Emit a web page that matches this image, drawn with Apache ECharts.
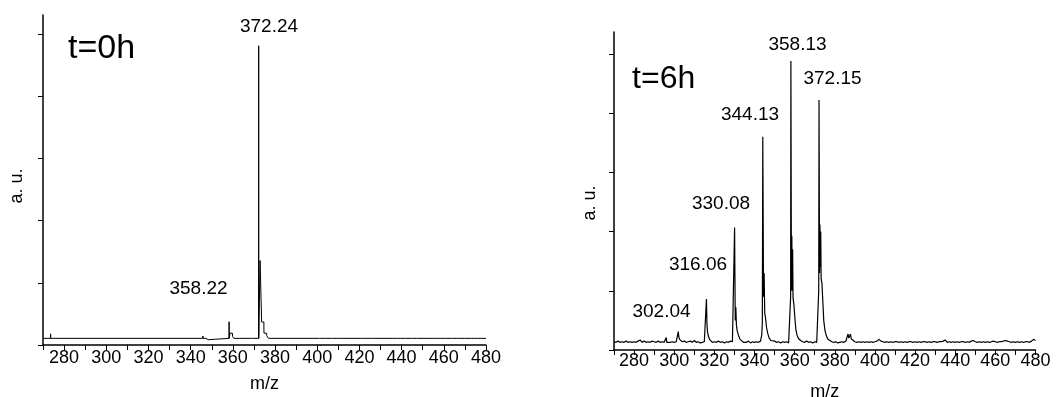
<!DOCTYPE html>
<html>
<head>
<meta charset="utf-8">
<script src="https://cdn.jsdelivr.net/npm/echarts@6/dist/echarts.min.js"></script>
<style>
  html, body { margin: 0; padding: 0; background: #fff; }
  #chart { width: 1064px; height: 397px; }
</style>
</head>
<body>
<div id="chart"></div>
<script>
// ---- data ----
const xTickValues = [270,280,290,300,310,320,330,340,350,360,370,380,390,400,410,420,430,440,450,460,470,480];
const xLabelValues = [280,300,320,340,360,380,400,420,440,460,480];
const yTickValues = [0,1,2,3,4,5];

// t = 0 h spectrum: [m/z, intensity (a.u.)]
const spectrum0h = [
  [270,0.107],[273.5,0.107],[273.6,0.18],[273.7,0.107],
  [345.7,0.107],[345.8,0.145],[345.9,0.107],
  [347.3,0.107],[347.35,0.085],[347.4,0.107],[348.2,0.107],[348.25,0.085],[348.3,0.107],
  [358.18,0.107],[358.22,0.374],[358.28,0.107],[358.6,0.107],[358.65,0.19],[359.8,0.19],[359.85,0.14],[360.4,0.14],[360.45,0.107],
  [369.25,0.107],[369.3,0.09],[369.35,0.107],
  [372.2,0.107],[372.24,4.815],[372.28,0.107],
  [372.85,0.107],[372.9,1.36],[373.6,1.36],[373.65,0.37],[374.7,0.37],[374.75,0.19],[376.0,0.19],[376.05,0.15],[376.9,0.15],[376.95,0.107],
  [401.1,0.107],[401.15,0.085],[401.2,0.107],[403.9,0.107],[403.95,0.085],[404.0,0.107],
  [406.8,0.107],[406.85,0.085],[406.9,0.107],[409.5,0.107],[409.55,0.085],[409.6,0.107],
  [420.9,0.107],[420.95,0.085],[421.0,0.107],[422.6,0.107],[422.65,0.085],[422.7,0.107],
  [426.3,0.107],[426.35,0.085],[426.4,0.107],
  [435.8,0.107],[435.85,0.085],[435.9,0.107],[437.5,0.107],[437.55,0.085],[437.6,0.107],
  [439.6,0.107],[439.65,0.085],[439.7,0.107],[441.4,0.107],[441.45,0.085],[441.5,0.107],
  [445.2,0.107],[445.25,0.085],[445.3,0.107],[447.0,0.107],[447.05,0.085],[447.1,0.107],
  [453.4,0.107],[453.45,0.085],[453.5,0.107],[455.3,0.107],[455.35,0.085],[455.4,0.107],
  [456.9,0.107],[456.95,0.085],[457.0,0.107],[458.6,0.107],[458.65,0.085],[458.7,0.107],
  [460.2,0.107],[460.25,0.085],[460.3,0.107],[461.5,0.107],[461.55,0.085],[461.6,0.107],
  [463.7,0.107],[463.75,0.085],[463.8,0.107],[466.6,0.107],[466.65,0.085],[466.7,0.107],
  [469.8,0.107],[469.85,0.085],[469.9,0.107],
  [473.0,0.107],[473.05,0.085],[473.1,0.107],[474.5,0.107],[474.55,0.085],[474.6,0.107],
  [476.0,0.107],[476.05,0.085],[476.1,0.107],[477.6,0.107],[477.65,0.085],[477.7,0.107],
  [479.0,0.107],[479.05,0.085],[479.1,0.107],[480,0.107]
];

// t = 6 h spectrum: [m/z, intensity (a.u.)]
const spectrum6h = [
  [270,0.14],[271,0.13],[272,0.15],[273,0.13],[274,0.14],[275,0.13],[276,0.15],[277,0.13],[278,0.14],[279,0.13],
  [280,0.14],[281,0.13],[282,0.15],[283,0.17],[283.5,0.14],[284,0.13],[285,0.15],[286,0.13],[287,0.14],[288,0.13],
  [289,0.15],[290,0.14],[291,0.13],[292,0.15],[293,0.13],[294,0.14],[295,0.13],[295.8,0.15],[296,0.21],[296.3,0.13],
  [297,0.12],[298,0.13],[299,0.14],[300,0.13],[301,0.14],[301.8,0.14],[302.04,0.31],[302.3,0.22],[302.7,0.18],[303.2,0.16],
  [304,0.14],[305,0.15],[306,0.13],[307,0.14],[308,0.15],[309,0.13],[310,0.16],[311,0.13],[312,0.14],[313,0.12],
  [314,0.13],[315,0.14],[315.8,0.15],[316.06,0.86],[316.3,0.45],[316.6,0.3],[317,0.24],[317.6,0.18],[318.3,0.15],[319,0.13],
  [320,0.14],[321,0.13],[322,0.15],[323,0.13],[324,0.14],[325,0.12],[326,0.14],[327,0.13],[328,0.15],[328.5,0.16],
  [329,0.14],[329.8,0.15],[330.08,2.07],[330.4,0.5],[330.7,0.72],[331,0.42],[331.4,0.32],[332,0.25],[332.8,0.18],[333.5,0.15],
  [334.5,0.13],[335,0.14],[336,0.13],[337,0.15],[338,0.12],[339,0.14],[340,0.13],[341,0.14],[342,0.13],[343,0.15],
  [343.6,0.25],[343.9,0.45],[344.13,3.60],[344.5,0.9],[344.8,1.30],[345.1,0.62],[345.5,0.54],[346,0.38],[346.6,0.28],[347.3,0.2],
  [348.2,0.16],[349,0.14],[350,0.15],[351,0.13],[352,0.14],[353,0.12],[354,0.14],[355,0.13],[356,0.14],[357,0.12],
  [357.9,0.14],[358.0,0.9],[358.13,4.88],[358.4,1.0],[358.6,1.93],[358.8,1.0],[359.0,1.7],[359.2,0.88],[359.6,0.78],[360.1,0.55],
  [360.6,0.35],[361.2,0.25],[362,0.19],[363,0.16],[364,0.14],[365,0.13],[366,0.15],[367,0.13],[368,0.14],[369,0.12],
  [370,0.14],[371,0.13],[371.9,0.14],[372.0,1.0],[372.15,4.22],[372.4,1.3],[372.6,2.12],[372.8,1.4],[373.0,2.0],[373.2,1.2],
  [373.6,1.13],[374.0,0.85],[374.5,0.5],[375.1,0.33],[375.8,0.24],[376.6,0.18],[377.5,0.16],[378.5,0.14],[379.5,0.13],[380.5,0.14],
  [381.5,0.12],[382.5,0.13],[383.5,0.14],[384.5,0.13],[385.5,0.15],[386.2,0.17],[386.6,0.27],[387,0.2],[387.4,0.23],[387.8,0.27],
  [388.2,0.19],[389,0.16],[390,0.14],[391,0.13],[392,0.14],[393,0.13],[394,0.14],[395,0.13],[396,0.14],[397,0.13],
  [398,0.14],[399,0.13],[400,0.14],[401,0.15],[402,0.18],[403,0.15],[404,0.14],[405,0.13],[406,0.14],[407,0.13],
  [408,0.14],[409,0.13],[410,0.14],[411,0.14],[412,0.13],[413,0.14],[414,0.13],[415,0.14],[416,0.13],[417,0.14],
  [418,0.14],[419,0.13],[420,0.14],[421,0.13],[422,0.14],[423,0.13],[424,0.14],[425,0.14],[426,0.13],[427,0.14],
  [428,0.13],[429,0.14],[430,0.14],[431,0.13],[432,0.14],[433,0.14],[434,0.15],[435,0.17],[435.5,0.14],[436,0.13],
  [437,0.14],[438,0.13],[439,0.14],[440,0.13],[441,0.14],[442,0.13],[443,0.14],[444,0.14],[445,0.13],[446,0.14],
  [447,0.13],[448,0.15],[449,0.16],[450,0.14],[451,0.13],[452,0.14],[453,0.13],[454,0.14],[455,0.13],[456,0.14],
  [457,0.13],[458,0.14],[459,0.15],[460,0.14],[461,0.13],[462,0.14],[463,0.14],[464,0.15],[465,0.16],[466,0.15],
  [467,0.14],[468,0.13],[469,0.14],[470,0.13],[471,0.14],[472,0.13],[473,0.14],[474,0.13],[475,0.14],[476,0.14],
  [477,0.13],[478,0.15],[479,0.18],[479.5,0.15],[480,0.16]
];

const title0h = 't=0h';
const title6h = 't=6h';
const peakLabels0h = ['372.24', '358.22'];
const peakLabels6h = ['358.13', '372.15', '344.13', '330.08', '316.06', '302.04'];
const xName = 'm/z';
const yName = 'a. u.';

// ---- chart ----
const FONT = '"Liberation Sans", Arial, sans-serif';
const chart = echarts.init(document.getElementById('chart'), null, { renderer: 'canvas' });

function makeX(gridIndex, margin, nameGap) {
  return {
    type: 'value', gridIndex: gridIndex, min: 270, max: 480, interval: 10,
    name: xName, nameLocation: 'middle', nameGap: nameGap,
    nameTextStyle: { color: '#000', fontSize: 18, fontFamily: FONT },
    axisLine: { show: true, onZero: false, lineStyle: { color: '#000', width: 1.5 } },
    axisTick: { show: true, inside: false, length: 5, customValues: xTickValues, lineStyle: { color: '#000', width: 1 } },
    axisLabel: { show: true, margin: margin, customValues: xLabelValues, color: '#000', fontSize: 18, fontFamily: FONT },
    splitLine: { show: false }
  };
}
function makeY(gridIndex, max, nameGap, shift) {
  return {
    type: 'value', gridIndex: gridIndex, min: 0, max: max, interval: 1,
    name: yName, nameLocation: 'middle', nameGap: nameGap,
    nameTextStyle: { color: '#000', fontSize: 18, fontFamily: FONT, padding: [0, shift, 0, 0] },
    axisLine: { show: true, onZero: false, lineStyle: { color: '#000', width: 1.5 } },
    axisTick: { show: true, inside: false, length: 5, customValues: yTickValues, lineStyle: { color: '#000', width: 1 } },
    axisLabel: { show: false },
    splitLine: { show: false }
  };
}

function txt(text, x, y, size) {
  return {
    type: 'text', x: x, y: y, silent: true,
    style: { text: text, fill: '#000', font: size + 'px ' + FONT, align: 'center', verticalAlign: 'middle' }
  };
}

const option = {
  animation: false,
  backgroundColor: '#fff',
  grid: [
    { left: 43, top: 15, width: 443, height: 330, containLabel: false, outerBoundsMode: 'none' },
    { left: 614, top: 32, width: 421.5, height: 318, containLabel: false, outerBoundsMode: 'none' }
  ],
  xAxis: [ makeX(0, 4, 30), makeX(1, 2.5, 33) ],
  yAxis: [ makeY(0, 5.31, 17, 12), makeY(1, 5.37, 15, 24) ],
  series: [
    { type: 'line', xAxisIndex: 0, yAxisIndex: 0, data: spectrum0h, showSymbol: false, symbol: 'none',
      lineStyle: { color: '#000', width: 1 }, clip: true },
    { type: 'line', xAxisIndex: 1, yAxisIndex: 1, data: spectrum6h, showSymbol: false, symbol: 'none',
      lineStyle: { color: '#000', width: 1.2 }, clip: true }
  ],
  graphic: [
    txt(title0h, 101.5, 48.5, 34),
    txt(peakLabels0h[0], 269, 26.7, 19),
    txt(peakLabels0h[1], 198.5, 289, 19),
    txt(title6h, 663.7, 79, 32),
    txt(peakLabels6h[0], 797.5, 45, 19),
    txt(peakLabels6h[1], 832.5, 78.3, 19),
    txt(peakLabels6h[2], 750, 115, 19),
    txt(peakLabels6h[3], 721, 203.3, 19),
    txt(peakLabels6h[4], 698, 265, 19),
    txt(peakLabels6h[5], 661.5, 311.7, 19)
  ]
};
chart.setOption(option);
</script>
</body>
</html>
